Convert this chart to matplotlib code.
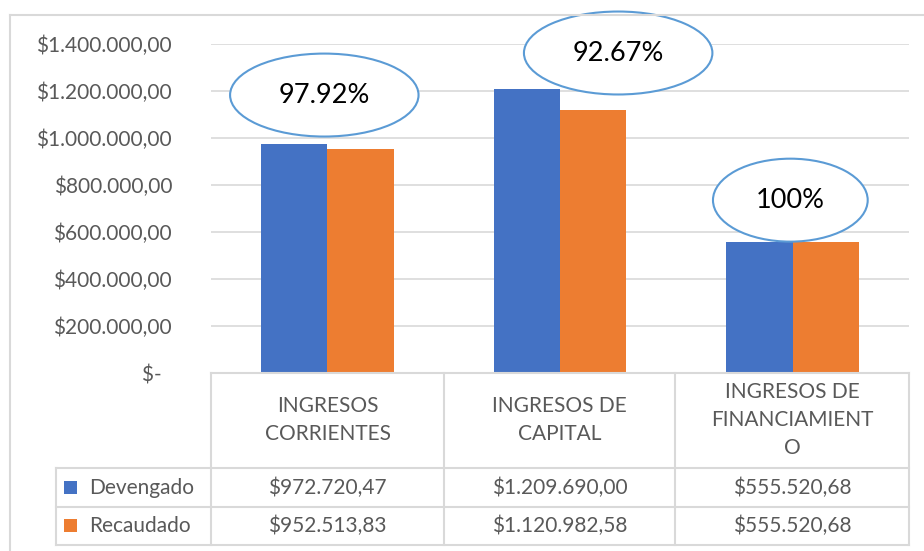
import matplotlib

matplotlib.use("Agg")

import matplotlib.pyplot as plt
import numpy as np
from matplotlib.lines import Line2D
from matplotlib.patches import Ellipse, Rectangle

categories = ["INGRESOS\nCORRIENTES", "INGRESOS DE\nCAPITAL", "INGRESOS DE\nFINANCIAMIENT\nO"]
series_names = ["Devengado", "Recaudado"]
devengado = [972720.47, 1209690.00, 555520.68]
recaudado = [952513.83, 1120982.58, 555520.68]
percent_labels = ["97.92%", "92.67%", "100%"]
y_ticks = [0, 200000, 400000, 600000, 800000, 1000000, 1200000, 1400000]

BLUE = "#4472C4"
ORANGE = "#ED7D31"
TEXT = "#595959"
GRID = "#D9D9D9"
FONT = "Lato"
FS = 15

W, H = 924, 551


def money(v):
    s = f"{v:,.2f}"
    return "$" + s.replace(",", "_").replace(".", ",").replace("_", ".")


def tick_label(v):
    return "$-  " if v == 0 else money(v)


def fx(x):
    return x / W


def fy(y):
    return 1 - y / H


fig = plt.figure(figsize=(W / 100, H / 100), dpi=100)
plt.rcParams["font.family"] = [FONT, "DejaVu Sans"]

# plot area in pixels
left, right, top, bottom = 211, 909, 44, 373
ax = fig.add_axes([fx(left), fy(bottom), fx(right - left), (bottom - top) / H])

x = np.arange(len(categories))
bw = 0.285
ax.bar(x - bw / 2, devengado, bw, color=BLUE, zorder=3)
ax.bar(x + bw / 2, recaudado, bw, color=ORANGE, zorder=3)

ax.set_xlim(-0.5, len(categories) - 0.5)
ax.set_ylim(0, 1400000)
ax.set_yticks(y_ticks)
ax.set_yticklabels([tick_label(v) for v in y_ticks], fontsize=FS, color=TEXT)
ax.tick_params(axis="y", length=0, pad=28)
ax.set_xticks([])
ax.grid(axis="y", color=GRID, linewidth=1.2, zorder=0)
for s in ax.spines.values():
    s.set_visible(False)

# ellipse callouts (offsets from bar groups, in data units)
ell_dx = [-0.013, 0.25, -0.01]
ell_dy = [210000, 152000, 180000]
ell_w = [0.81, 0.81, 0.665]
ell_h = 353000
for i, lab in enumerate(percent_labels):
    cx = x[i] + ell_dx[i]
    cy = max(devengado[i], recaudado[i]) + ell_dy[i]
    ax.add_patch(Ellipse((cx, cy), ell_w[i], ell_h, facecolor="white",
                         edgecolor="#5B9BD5", linewidth=1.5, zorder=5, clip_on=False))
    ax.text(cx, cy, lab, ha="center", va="center", fontsize=19.5, color="black",
            zorder=6, clip_on=False)

# chart border (left and top visible in the crop)
fig.add_artist(Line2D([fx(10), fx(10)], [fy(15), 0], color=GRID, linewidth=1.5))
fig.add_artist(Line2D([fx(10), 1], [fy(15), fy(15)], color=GRID, linewidth=1.5))

# data table
cols = [211, 444, 675, 909]
rows = [373, 468, 507, 545]
leg_left = 56


def hline(y, x0, x1):
    fig.add_artist(Line2D([fx(x0), fx(x1)], [fy(y), fy(y)], color=GRID, linewidth=1.5))


def vline(xp, y0, y1):
    fig.add_artist(Line2D([fx(xp), fx(xp)], [fy(y0), fy(y1)], color=GRID, linewidth=1.5))


hline(rows[0], cols[0], cols[-1])
for r in rows[1:]:
    hline(r, leg_left, cols[-1])
for c in cols:
    vline(c, rows[0], rows[-1])
vline(leg_left, rows[1], rows[-1])

for i, cat in enumerate(categories):
    cx = (cols[i] + cols[i + 1]) / 2
    fig.text(fx(cx), fy((rows[0] + rows[1]) / 2), cat, ha="center", va="center",
             fontsize=FS, color=TEXT, linespacing=1.5)

for j, (name, vals, col) in enumerate(zip(series_names, [devengado, recaudado], [BLUE, ORANGE])):
    cy = (rows[j + 1] + rows[j + 2]) / 2
    fig.add_artist(Rectangle((fx(64), fy(cy + 6)), fx(13), 13 / H, facecolor=col,
                             edgecolor="none", transform=fig.transFigure))
    fig.text(fx(89), fy(cy), name, ha="left", va="center", fontsize=FS, color=TEXT)
    for i, v in enumerate(vals):
        cx = (cols[i] + cols[i + 1]) / 2
        fig.text(fx(cx), fy(cy), money(v), ha="center", va="center", fontsize=FS, color=TEXT)

fig.savefig("out.png", dpi=100)
